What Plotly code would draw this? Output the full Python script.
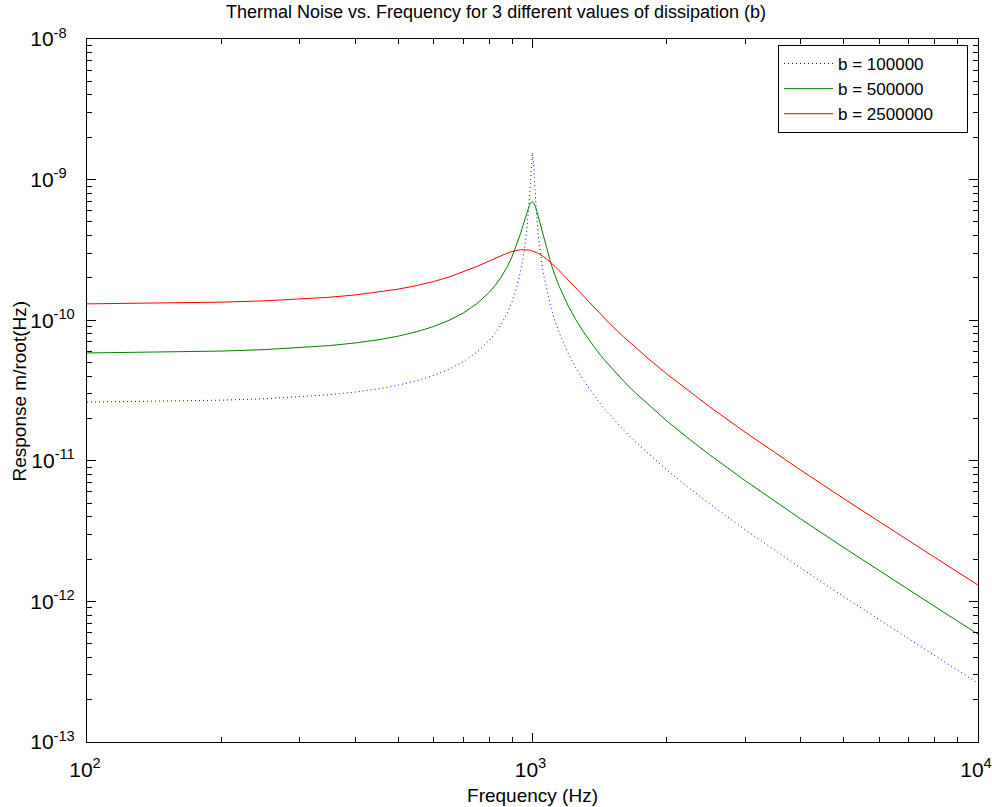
import plotly.graph_objects as go

# Frequency samples (Hz)
freq = [100, 150, 200, 250, 300, 350, 400, 450, 500, 550, 600, 650, 700, 750, 800, 825,
        850, 875, 900, 920, 940, 950, 960, 970, 980, 985, 990, 995, 1000, 1005, 1010,
        1015, 1020, 1030, 1040, 1050, 1060, 1080, 1100, 1125, 1150, 1200, 1250, 1300,
        1350, 1400, 1450, 1500, 1600, 1700, 1850, 2000, 2250, 2500, 3000, 3500, 4000,
        5000, 6000, 7000, 8000, 10000]

# Response m/root(Hz)
resp_b100000 = [2.616e-11, 2.650e-11, 2.698e-11, 2.7626e-11, 2.846e-11, 2.9515e-11,
                3.083e-11, 3.2475e-11, 3.453e-11, 3.7129e-11, 4.046e-11, 4.4841e-11,
                5.077e-11, 5.917e-11, 7.190e-11, 8.1021e-11, 9.321e-11, 1.1029e-10,
                1.359e-10, 1.678e-10, 2.205e-10, 2.622e-10, 3.237e-10, 4.227e-10,
                6.046e-10, 7.617e-10, 1.0019e-9, 1.338e-9, 1.554e-9, 1.327e-9, 9.879e-10,
                7.478e-10, 5.909e-10, 4.093e-10, 3.105e-10, 2.491e-10, 2.074e-10,
                1.547e-10, 1.229e-10, 9.7264e-11, 8.017e-11, 5.880e-11, 4.6013e-11,
                3.752e-11, 3.1478e-11, 2.697e-11, 2.3486e-11, 2.072e-11, 1.6600e-11,
                1.370e-11, 1.0691e-11, 8.633e-12, 6.3751e-12, 4.933e-12, 3.237e-12,
                2.3022e-12, 1.727e-12, 1.0792e-12, 7.400e-13, 5.396e-13, 4.111e-13,
                2.616e-13]

resp_b500000 = [5.848e-11, 5.923e-11, 6.030e-11, 6.1745e-11, 6.360e-11, 6.5946e-11,
                6.887e-11, 7.2522e-11, 7.708e-11, 8.2832e-11, 9.019e-11, 9.9822e-11,
                1.1279e-10, 1.3101e-10, 1.5814e-10, 1.7723e-10, 2.0216e-10, 2.3589e-10,
                2.8345e-10, 3.3727e-10, 4.1268e-10, 4.6101e-10, 5.1691e-10, 5.7823e-10,
                6.3794e-10, 6.6309e-10, 6.8225e-10, 6.9329e-10, 6.948e-10, 6.8644e-10,
                6.6911e-10, 6.4461e-10, 6.1522e-10, 5.5015e-10, 4.8640e-10, 4.2963e-10,
                3.8112e-10, 3.0606e-10, 2.5269e-10, 2.0555e-10, 1.7210e-10, 1.2832e-10,
                1.0121e-10, 8.290e-11, 6.9746e-11, 5.987e-11, 5.2204e-11, 4.609e-11,
                3.6981e-11, 3.055e-11, 2.3853e-11, 1.9270e-11, 1.4237e-11, 1.1020e-11,
                7.234e-12, 5.145e-12, 3.859e-12, 2.412e-12, 1.6541e-12, 1.2062e-12,
                9.190e-13, 5.848e-13]

resp_b2500000 = [1.3069e-10, 1.3221e-10, 1.3439e-10, 1.3729e-10, 1.4098e-10, 1.4558e-10,
                 1.5122e-10, 1.5807e-10, 1.6637e-10, 1.7639e-10, 1.8847e-10, 2.0302e-10,
                 2.2042e-10, 2.4086e-10, 2.6395e-10, 2.7599e-10, 2.8782e-10, 2.9879e-10,
                 3.0805e-10, 3.1359e-10, 3.1694e-10, 3.1766e-10, 3.1771e-10, 3.1704e-10,
                 3.1566e-10, 3.1471e-10, 3.1358e-10, 3.1227e-10, 3.108e-10, 3.0916e-10,
                 3.0737e-10, 3.0543e-10, 3.0334e-10, 2.9875e-10, 2.9368e-10, 2.8820e-10,
                 2.8236e-10, 2.6992e-10, 2.5687e-10, 2.4036e-10, 2.2421e-10, 1.9443e-10,
                 1.6893e-10, 1.4763e-10, 1.2996e-10, 1.1528e-10, 1.0301e-10, 9.266e-11,
                 7.633e-11, 6.416e-11, 5.094e-11, 4.159e-11, 3.1061e-11, 2.4195e-11,
                 1.5993e-11, 1.1416e-11, 8.581e-12, 5.376e-12, 3.691e-12, 2.693e-12,
                 2.053e-12, 1.3069e-12]

series_names = ["b = 100000", "b = 500000", "b = 2500000"]
x_tickvals = [100, 1000, 10000]
x_ticktext = ["10<sup>2</sup>", "10<sup>3</sup>", "10<sup>4</sup>"]
x_minor = [200, 300, 400, 500, 600, 700, 800, 900,
           2000, 3000, 4000, 5000, 6000, 7000, 8000, 9000]
y_tickvals = [1e-13, 1e-12, 1e-11, 1e-10, 1e-9, 1e-8]
y_ticktext = ["10<sup>-13</sup>", "10<sup>-12</sup>", "10<sup>-11</sup>",
              "10<sup>-10</sup>", "10<sup>-9&nbsp;&nbsp;</sup>", "10<sup>-8&nbsp;&nbsp;</sup>"]
y_minor = [m * 10.0 ** e for e in range(-13, -8) for m in range(2, 10)]

FONT = "Arial, Liberation Sans, sans-serif"
PAD = "&nbsp;" * 6

fig = go.Figure()
fig.add_trace(go.Scatter(x=freq, y=resp_b100000, mode="lines", name=series_names[0] + PAD,
                         line=dict(color="#0000ff", width=1, dash="1px,3px")))
fig.add_trace(go.Scatter(x=freq, y=resp_b500000, mode="lines", name=series_names[1] + PAD,
                         line=dict(color="#008000", width=1)))
fig.add_trace(go.Scatter(x=freq, y=resp_b2500000, mode="lines", name=series_names[2] + PAD,
                         line=dict(color="#ff0000", width=1)))

axis_common = dict(
    showgrid=False, zeroline=False, showline=True, linecolor="black", linewidth=1,
    mirror="allticks", ticks="inside", ticklen=9, tickcolor="black", tickwidth=1,
    tickfont=dict(family=FONT, size=21, color="black"),
    ticklabeloverflow="allow", automargin=False,
)

fig.update_xaxes(type="log", range=[2, 4], tickvals=x_tickvals, ticktext=x_ticktext,
                 ticklabelstandoff=9, ticklabelshift=-2,
                 minor=dict(tickvals=x_minor, ticks="inside", ticklen=5, tickcolor="black",
                            tickwidth=1, showgrid=False),
                 title=dict(text="Frequency (Hz)", font=dict(family=FONT, size=19, color="black"),
                            standoff=8),
                 **axis_common)
fig.update_yaxes(type="log", range=[-13, -8], tickvals=y_tickvals, ticktext=y_ticktext,
                 ticklabelstandoff=7,
                 minor=dict(tickvals=y_minor, ticks="inside", ticklen=5, tickcolor="black",
                            tickwidth=1, showgrid=False),
                 **axis_common)

fig.update_layout(
    width=992, height=807,
    margin=dict(l=87, r=14, t=39, b=65, pad=0),
    paper_bgcolor="white", plot_bgcolor="white",
    title=dict(text="Thermal Noise vs. Frequency for 3 different values of dissipation (b)",
               font=dict(family=FONT, size=18, color="black"),
               x=0.5, xanchor="center", y=0.985, yanchor="middle", yref="container"),
    legend=dict(x=0.9888, y=0.9915, xanchor="right", yanchor="top",
                bordercolor="black", borderwidth=1, bgcolor="white",
                font=dict(family=FONT, size=17, color="black"),
                itemwidth=49, tracegroupgap=0),
    showlegend=True,
    annotations=[dict(text="Response m/root(Hz)", textangle=-90,
                      xref="paper", yref="paper", x=-0.0752, y=0.5,
                      xanchor="center", yanchor="middle", showarrow=False,
                      font=dict(family=FONT, size=19, color="black"))],
)

fig.write_html("out.html")
